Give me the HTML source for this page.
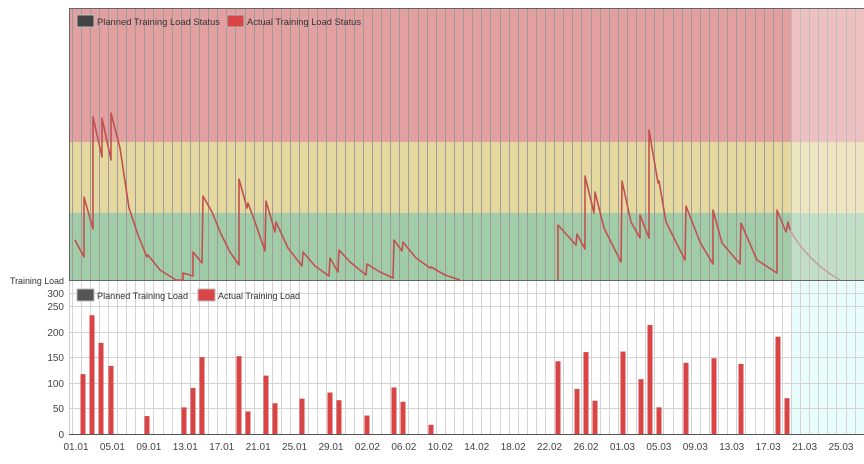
<!DOCTYPE html>
<html><head><meta charset="utf-8"><style>
body{margin:0;background:#fff;width:864px;height:464px;overflow:hidden;font-family:"Liberation Sans",sans-serif}
svg{display:block}
</style></head><body>
<svg id="s" width="864" height="464" xmlns="http://www.w3.org/2000/svg" font-family="Liberation Sans, sans-serif">
<rect x="69" y="8" width="795" height="134" fill="#e3a0a0"/>
<rect x="69" y="142" width="795" height="71" fill="#e5d9a0"/>
<rect x="69" y="213" width="795" height="67" fill="#a0cda8"/>
<g id="tg" stroke="#a09a9a" stroke-width="1"></g>
<rect x="791" y="8" width="73" height="272" fill="#fff" opacity="0.35"/>
<rect x="69.5" y="8.5" width="800" height="272" fill="none" stroke="#666"/>
<rect x="791" y="281" width="73" height="153" fill="#e9fcfc"/>
<g id="bg" stroke="#d4d4d4" stroke-width="1"></g>
<polyline fill="none" stroke="#c25050" stroke-width="1.6" stroke-linejoin="round" points="75,240 84,257 84,197 93,229 93,117 102,157 102,118 111,160 111,113 120,148 129,208 138,235 147,257 148,255 160,270 176,280 183,280 183,273 193,276 193,252 202,263 203,196 212,212 221,234 230,252 239,265 239,179 247,208 248,203 255,222 265,251 266,201 275,232 276,222 288,248 302,266 303,252 315,266 329,276 330,258 338,272 339,250 350,262 366,275 367,264 380,272 393,278 394,240 402,251 403,242 416,258 430,268 431,267 445,275 460,280"/>
<polyline fill="none" stroke="#c25050" stroke-width="1.6" stroke-linejoin="round" points="558,280 558,225 576,245 577,234 585,249 585,176 594,213 595,192 604,228 621,262 622,181 631,222 640,238 640,215 649,238 649,130 658,183 659,181 666,222 685,260 686,206 700,242 713,264 713,210 722,243 740,264 741,223 757,260 777,273 777,210 786,232 788,222 790,230"/>
<path d="M790,230 Q808,262 840,280" fill="none" stroke="#c8a0a0" stroke-width="1.5"/>
<line x1="69" y1="434.5" x2="864" y2="434.5" stroke="#555"/>
<line x1="69.5" y1="281" x2="69.5" y2="434" stroke="#ccc"/>
<g id="bars" fill="#d94444"></g>
<g font-size="9.5" fill="#333">
<rect x="77" y="15" width="17" height="12" fill="#444" stroke="#bbb"/>
<text x="97" y="25" textLength="123" lengthAdjust="spacingAndGlyphs">Planned Training Load Status</text>
<rect x="227" y="15" width="17" height="12" fill="#d94444" stroke="#bbb"/>
<text x="247" y="25" textLength="114" lengthAdjust="spacingAndGlyphs">Actual Training Load Status</text>
<rect x="77" y="289" width="17" height="12" fill="#555" stroke="#bbb"/>
<text x="97" y="299" textLength="91" lengthAdjust="spacingAndGlyphs">Planned Training Load</text>
<rect x="198" y="289" width="17" height="12" fill="#d94444" stroke="#bbb"/>
<text x="218" y="299" textLength="82" lengthAdjust="spacingAndGlyphs">Actual Training Load</text>
<text x="10" y="284" textLength="54" lengthAdjust="spacingAndGlyphs">Training Load</text>
</g>
<g id="yl" font-size="10" fill="#444" text-anchor="end"></g>
<g id="xl" font-size="10" fill="#444" text-anchor="middle"></g>
</svg>
<script>
var NS="http://www.w3.org/2000/svg";
function el(p,t,a,txt){var e=document.createElementNS(NS,t);for(var k in a)e.setAttribute(k,a[k]);if(txt)e.textContent=txt;document.getElementById(p).appendChild(e);}
var sp=9.107;
for(var k=0;k<88;k++){var x=Math.round(71.5+sp*k)+0.5;if(x>69&&x<864){el("tg","line",{x1:x,y1:8,x2:x,y2:280});el("bg","line",{x1:x,y1:281,x2:x,y2:434});}}
var ys=[[0,434],[50,408],[100,383],[150,357],[200,332],[250,306],[300,293]];
ys.forEach(function(p){if(p[0]>0)el("bg","line",{x1:69,y1:p[1]+0.5,x2:864,y2:p[1]+0.5});el("yl","text",{x:64,y:p[1]+4},String(p[0]));});
var bars=[[83,117],[92,232],[101,178],[111,133],[147,35],[184,52],[193,90],[202,150],[239,152],[248,44],[266,114],[275,60],[302,69],[330,81],[339,66],[367,36],[394,91],[403,63],[431,18],[558,142],[577,88],[586,160],[595,65],[623,161],[641,107],[650,213],[659,52],[686,139],[714,148],[741,137],[778,190],[787,70]];
bars.forEach(function(b){var h=b[1]*0.512;el("bars","rect",{x:b[0]-2.5,y:434-h,width:5,height:h});});
var labs=["01.01","05.01","09.01","13.01","17.01","21.01","25.01","29.01","02.02","06.02","10.02","14.02","18.02","22.02","26.02","01.03","05.03","09.03","13.03","17.03","21.03","25.03"];
labs.forEach(function(l,i){el("xl","text",{x:76+sp*4*i,y:450},l);});
</script>
</body></html>
